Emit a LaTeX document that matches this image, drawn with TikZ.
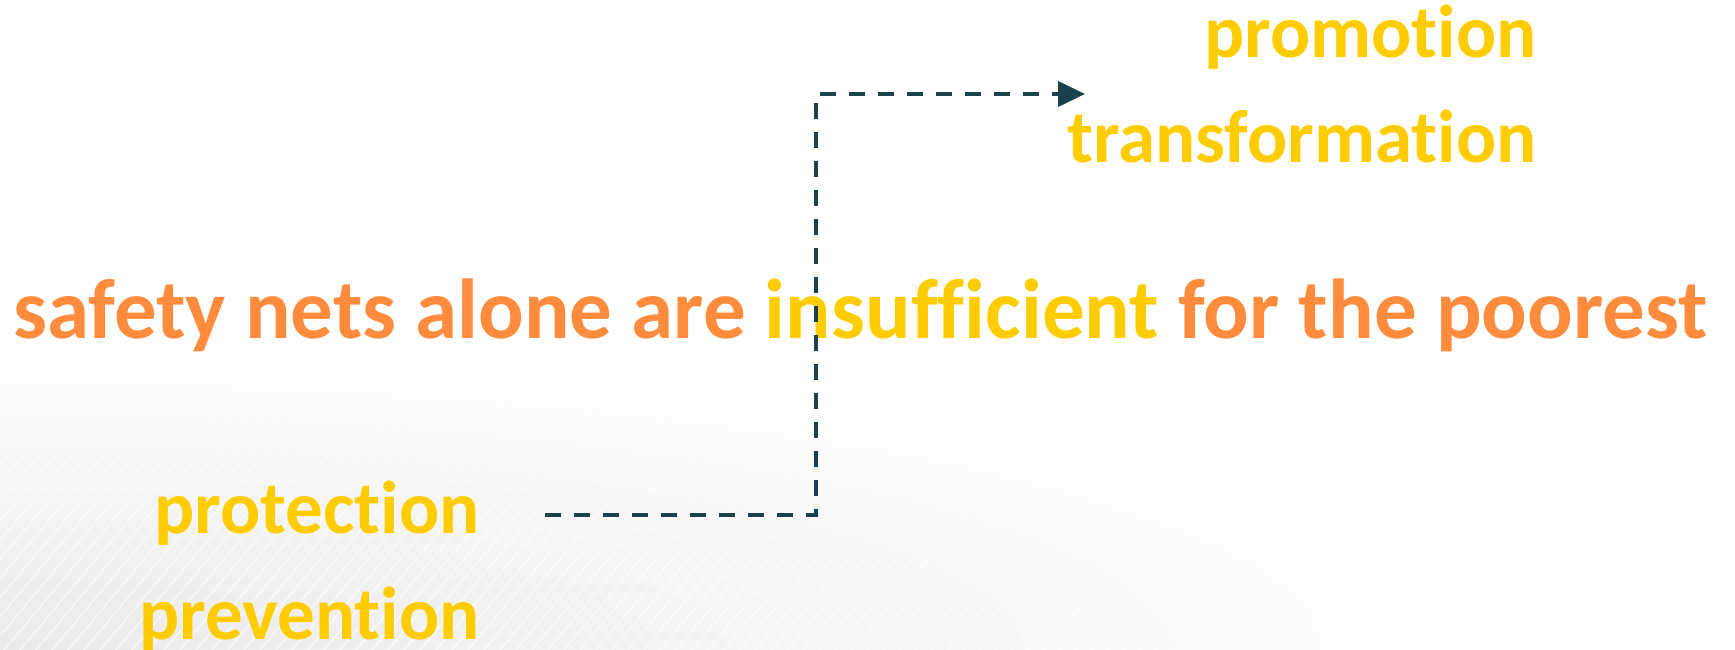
\documentclass[tikz,border=0pt]{standalone}
\usepackage{fontspec}
\setmainfont{Carlito}[Ligatures=NoCommon]
\usetikzlibrary{arrows.meta,calc}
\definecolor{tOrange}{HTML}{FF8B3D}
\definecolor{tYellow}{HTML}{FFCC00}
\definecolor{tLine}{HTML}{1A424A}
\tikzset{
  bigtext/.style={inner sep=0pt, font=\bfseries\fontsize{85}{100}\selectfont, text=tOrange},
  midtext/.style={inner sep=0pt, font=\bfseries\fontsize{75}{90}\selectfont, text=tYellow},
  conn/.style={draw=tLine, line width=4pt, dash pattern=on 16pt off 13pt, -{Triangle[length=27pt,width=25pt]}},
  stripe/.style={draw=white, line width=1.1pt, opacity=0.75}
}
\begin{document}
\begin{tikzpicture}[x=1pt,y=-1pt]
\useasboundingbox (0,0) rectangle (1735,650);
% background
\begin{scope}
\clip (0,0) rectangle (1735,650);
\shade[inner color=black!8, outer color=white] (0,650) ellipse [x radius=1500, y radius=300];
\foreach \i in {-700,-684,...,1735} {
  \draw[stripe] (\i,650) -- ++(545,-650);
}
\end{scope}
% texts
\node[bigtext, anchor=base west] (main) at (13,338) {safety nets alone are \textcolor{tYellow}{insufficient} for the poorest};
\node[midtext, anchor=base east] (prom) at (1537,58) {promotion};
\node[midtext, anchor=base east] (trans) at (1537,163) {transformation};
\node[midtext, anchor=base east] (prot) at (480,533) {protection};
\node[midtext, anchor=base east] (prev) at (480,639) {prevention};
% connector
\coordinate (s) at (545,515);
\coordinate (bend) at (816,515);
\coordinate (e) at (1085,94);
\draw[conn] (s) -- (bend) |- (e);
\end{tikzpicture}
\end{document}
